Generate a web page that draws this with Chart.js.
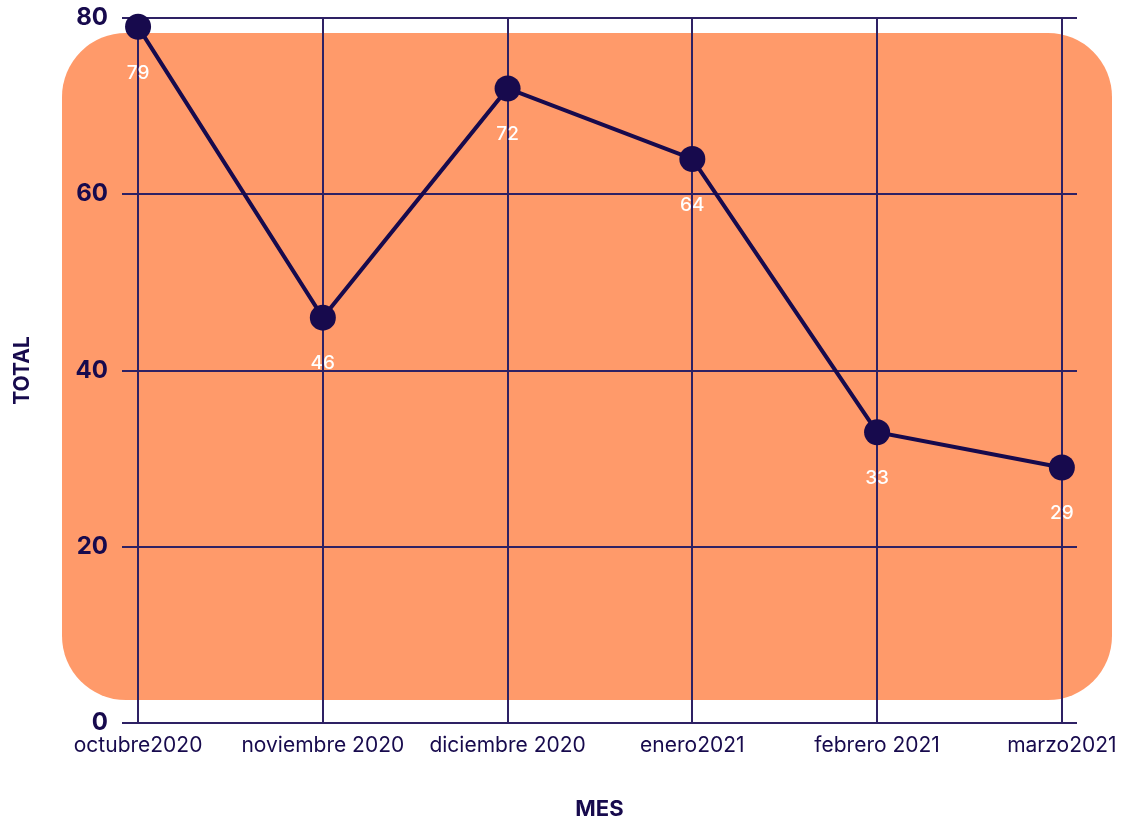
<!DOCTYPE html>
<html>
<head>
<meta charset="utf-8">
<script src="https://cdn.jsdelivr.net/npm/chart.js@4"></script>
<style>
  html, body { margin: 0; padding: 0; background: #ffffff; }
  #wrap { width: 1128px; height: 817px; }
</style>
</head>
<body>
<div id="wrap"><canvas id="c" width="1128" height="817"></canvas></div>
<script>
// Monthly totals
const months = ['octubre2020', 'noviembre 2020', 'diciembre 2020', 'enero2021', 'febrero 2021', 'marzo2021'];
const totals = [79, 46, 72, 64, 33, 29];
const yTicks = [0, 20, 40, 60, 80];

const INK = '#170a4d';
const GRID = '#2e2164';
const PANEL = '#ff9a6a';
const FONT = 'Inter, "Open Sans", sans-serif';

// Rounded orange panel behind the plot
const panelPlugin = {
  id: 'panel',
  beforeDraw(chart) {
    const { ctx, chartArea: a } = chart;
    ctx.save();
    ctx.fillStyle = PANEL;
    ctx.beginPath();
    ctx.roundRect(a.left - 60, a.top + 15, (a.right + 35) - (a.left - 60), (a.bottom - 23) - (a.top + 15), 64);
    ctx.fill();
    ctx.restore();
  }
};

// White value labels under each point
const valueLabels = {
  id: 'valueLabels',
  afterDatasetsDraw(chart) {
    const { ctx } = chart;
    const meta = chart.getDatasetMeta(0);
    ctx.save();
    ctx.fillStyle = '#ffffff';
    ctx.font = '500 19px ' + FONT;
    ctx.textAlign = 'center';
    ctx.textBaseline = 'middle';
    meta.data.forEach((pt, i) => {
      ctx.fillText(String(totals[i]), pt.x, pt.y + 46);
    });
    ctx.restore();
  }
};

new Chart(document.getElementById('c'), {
  type: 'line',
  data: {
    datasets: [{
      data: months.map((m, i) => ({ x: i, y: totals[i] })),
      borderColor: INK,
      backgroundColor: INK,
      borderWidth: 4,
      pointRadius: 13,
      pointHoverRadius: 13,
      pointBackgroundColor: INK,
      pointBorderWidth: 0,
      tension: 0,
      clip: false
    }]
  },
  options: {
    responsive: false,
    animation: false,
    events: [],
    layout: { padding: { top: 18, right: 51, bottom: 0, left: 0 } },
    plugins: { legend: { display: false }, tooltip: { enabled: false } },
    scales: {
      x: {
        type: 'linear',
        min: -0.087,
        max: 5.082,
        afterBuildTicks(scale) { scale.ticks = months.map((m, i) => ({ value: i })); },
        afterFit(scale) { scale.height = 94; scale.paddingLeft = 0; scale.paddingRight = 0; },
        border: { display: false },
        grid: { color: GRID, lineWidth: 2, drawTicks: false },
        ticks: {
          autoSkip: false,
          maxRotation: 0,
          padding: 10,
          color: INK,
          font: { family: FONT, size: 21 },
          callback: (v) => months[v]
        },
        title: {
          display: true,
          text: 'MES',
          color: INK,
          font: { family: FONT, size: 22, weight: 'bold' },
          padding: { top: 24, bottom: -6 }
        }
      },
      y: {
        min: 0,
        max: 80,
        afterBuildTicks(scale) { scale.ticks = yTicks.map(v => ({ value: v })); },
        afterFit(scale) { scale.width = 122; scale.paddingTop = 0; scale.paddingBottom = 0; },
        border: { display: false },
        grid: { color: GRID, lineWidth: 2, drawTicks: false },
        ticks: {
          padding: 14,
          color: INK,
          font: { family: FONT, size: 24, weight: 'bold' }
        },
        title: {
          display: true,
          text: 'TOTAL',
          color: INK,
          font: { family: FONT, size: 21, weight: 'bold' },
          padding: { top: 10, bottom: 0 }
        }
      }
    }
  },
  plugins: [panelPlugin, valueLabels]
});
</script>
</body>
</html>
